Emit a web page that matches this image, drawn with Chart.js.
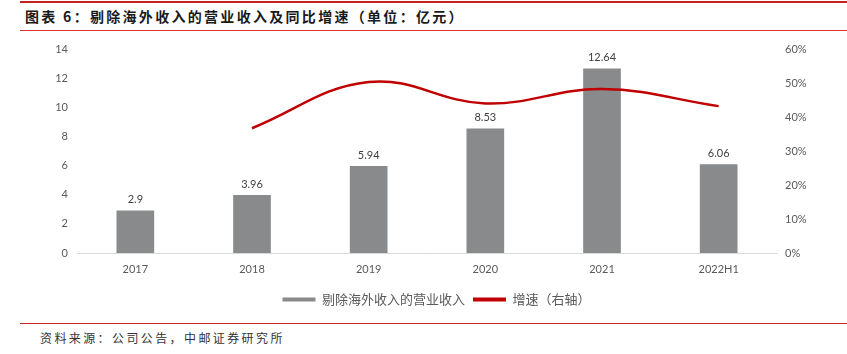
<!DOCTYPE html>
<html>
<head>
<meta charset="utf-8">
<script src="https://cdn.jsdelivr.net/npm/chart.js@4"></script>
<style>
    html, body { margin: 0; padding: 0; background: #fff; }
    body { width: 847px; height: 354px; position: relative; overflow: hidden; }
    .rule-top { position: absolute; left: 20px; right: 0; top: 1px; height: 2px; background: #c9211e; }
    .title { position: absolute; left: 25px; top: 6px; font: bold 14px "Noto Sans CJK SC", sans-serif; color: #1a1a1a; letter-spacing: 2.3px; white-space: nowrap; }
    .rule-mid { position: absolute; left: 20px; right: 0; top: 30px; height: 1px; background: #d9302c; }
    .rule-bot { position: absolute; left: 20px; right: 0; top: 323px; height: 1px; background: #c9211e; }
    .source { position: absolute; left: 40px; top: 329px; font: 12px "Noto Sans CJK SC", sans-serif; color: #333; letter-spacing: 2.4px; white-space: nowrap; }
    .wrap { position: absolute; left: 0; top: 32px; width: 847px; height: 284px; }
</style>
</head>
<body>
<div class="rule-top"></div>
<div class="title">图表 6：剔除海外收入的营业收入及同比增速（单位：亿元）</div>
<div class="rule-mid"></div>
<div class="wrap"><canvas id="chart-combo"></canvas></div>
<div class="rule-bot"></div>
<div class="source">资料来源：公司公告，中邮证券研究所</div>
<script>
var years = ["2017", "2018", "2019", "2020", "2021", "2022H1"];
var revenue = [2.9, 3.96, 5.94, 8.53, 12.64, 6.06]; // 亿元
var growth = [null, 0.367, 0.503, 0.44, 0.482, 0.432]; // 右轴
var leftTicks = [0, 2, 4, 6, 8, 10, 12, 14];
var rightTicks = [0, 0.1, 0.2, 0.3, 0.4, 0.5, 0.6];

var tickFont = { size: 11, family: "Lato" };

// 柱子上方的數值
var barLabels = {
    id: "barLabels",
    afterDatasetsDraw: function (chart) {
        var ctx = chart.ctx;
        var meta = chart.getDatasetMeta(1); // 柱狀資料
        ctx.save();
        ctx.font = "11px Lato";
        ctx.fillStyle = "#404040";
        ctx.textAlign = "center";
        ctx.textBaseline = "middle";
        meta.data.forEach(function (bar, i) {
            ctx.fillText(String(revenue[i]), bar.x, bar.y - 11);
        });
        ctx.restore();
    }
};

var ctx = document.getElementById("chart-combo").getContext("2d");
new Chart(ctx, {
    data: {
        labels: years,
        datasets: [{
            type: "line",
            label: "增速（右轴）",
            data: growth,
            yAxisID: "y1",
            borderColor: "#c00000",
            backgroundColor: "#c00000",
            borderWidth: 2.5,
            pointRadius: 0,
            tension: 0.4,
            order: 0
        }, {
            type: "bar",
            label: "剔除海外收入的营业收入",
            data: revenue,
            yAxisID: "y",
            backgroundColor: "#898a8c",
            barThickness: 37,
            order: 1
        }]
    },
    options: {
        responsive: true,
        maintainAspectRatio: false,
        animation: false,
        // 左邊留白讓圖例往右移一點
        layout: { padding: { top: 17, left: 26, right: 0, bottom: 0 } },
        plugins: {
            tooltip: { enabled: false },
            legend: {
                position: "bottom",
                labels: {
                    boxWidth: 33,
                    boxHeight: 4,
                    padding: 8,
                    color: "#595959",
                    font: { size: 13, family: "Noto Sans CJK SC" },
                    generateLabels: function (chart) {
                        // 柱在前, 線在後
                        return [1, 0].map(function (i) {
                            var ds = chart.data.datasets[i];
                            return {
                                text: ds.label,
                                fillStyle: i === 1 ? "#898a8c" : "#c00000",
                                strokeStyle: "transparent",
                                lineWidth: 0,
                                fontColor: "#595959",
                                datasetIndex: i
                            };
                        });
                    }
                }
            }
        },
        scales: {
            x: {
                grid: { display: false, drawTicks: false },
                border: { display: true, color: "#d9d9d9", width: 1 },
                ticks: { color: "#595959", font: tickFont, padding: 10 },
                afterFit: function (scale) { scale.height = 32; }
            },
            y: {
                position: "left",
                min: 0,
                max: 14,
                afterBuildTicks: function (scale) {
                    scale.ticks = leftTicks.map(function (v) { return { value: v }; });
                },
                grid: { display: false, drawTicks: false },
                border: { display: false },
                ticks: { color: "#595959", font: tickFont, padding: 9 },
                afterFit: function (scale) { scale.width = 51; }
            },
            y1: {
                position: "right",
                min: 0,
                max: 0.6,
                afterBuildTicks: function (scale) {
                    scale.ticks = rightTicks.map(function (v) { return { value: v }; });
                },
                grid: { display: false, drawTicks: false },
                border: { display: false },
                ticks: {
                    color: "#595959",
                    font: tickFont,
                    padding: 8,
                    callback: function (v) { return Math.round(v * 100) + "%"; }
                },
                afterFit: function (scale) { scale.width = 70; }
            }
        }
    },
    plugins: [barLabels]
});
</script>
</body>
</html>
